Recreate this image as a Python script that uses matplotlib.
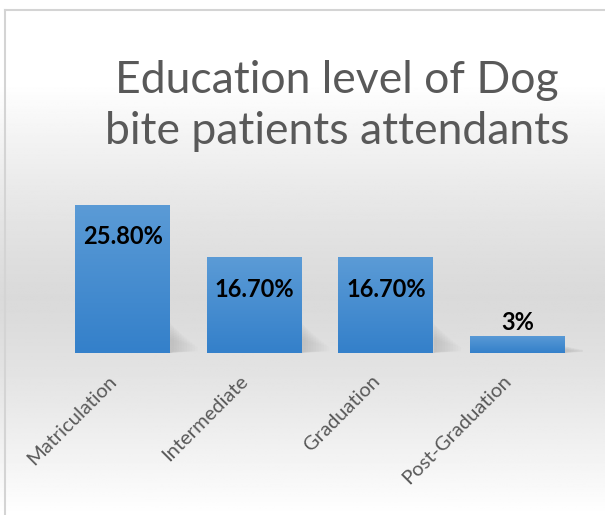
import numpy as np
import matplotlib.pyplot as plt
import matplotlib.transforms as mtransforms
from matplotlib.colors import LinearSegmentedColormap

# data
categories = ['Matriculation', 'Intermediate', 'Graduation', 'Post-Graduation']
values = [25.8, 16.7, 16.7, 3.0]
labels = ['25.80%', '16.70%', '16.70%', '3%']
title = 'Education level of Dog\nbite patients attendants'

W, H = 605, 515
fig = plt.figure(figsize=(W / 100, H / 100), dpi=100)

# background gradient (white -> grey -> white)
bg = fig.add_axes([0, 0, 1, 1])
yy = np.linspace(0, 1, 300)[:, None]  # 0 = top
grey = 0.855 + 0.145 * np.clip(np.abs(yy - 0.58) / 0.42, 0, 1) ** 1.3
img = np.repeat(grey, 2, axis=1)
bg.imshow(img, cmap='gray', vmin=0, vmax=1, aspect='auto', extent=(0, W, H, 0))
bg.set_xlim(0, W)
bg.set_ylim(H, 0)
bg.axis('off')
# chart frame (cropped on right and bottom)
bg.plot([5, W + 5], [10, 10], color='#d4d4d4', lw=1.5)
bg.plot([5, 5], [10, H + 5], color='#d4d4d4', lw=1.5)

# main axes
left_px, right_px, bottom_px, top_px = 56.75, 583.25, 353, 190
ax = fig.add_axes([left_px / W, (H - bottom_px) / H,
                   (right_px - left_px) / W, (bottom_px - top_px) / H])
ax.patch.set_alpha(0)
ppu = 5.74  # pixels per percent
ax.set_xlim(-0.5, 3.5)
ax.set_ylim(0, (bottom_px - top_px) / ppu)

x = np.arange(len(categories))
bw = 0.72
bar_cmap = LinearSegmentedColormap.from_list('b', ['#3480ca', '#5b9bd6'])
bars = ax.bar(x, values, width=bw, color='none', edgecolor='none', zorder=3)
grad = np.linspace(1, 0, 100)[:, None]
for b, v in zip(bars, values):
    bx = b.get_x()
    # soft shadow near the base, to the right
    sh = min(v * 0.35, 4.5)
    for k in range(10):
        ax.fill([bx + bw, bx + bw + 0.03 + 0.02 * k, bx + bw + 0.03 + 0.02 * k, bx + bw],
                [0, 0.3, sh * (1 - k / 12), sh * (1.2 - k / 14)], color='black',
                alpha=0.01, lw=0, zorder=2)
    im = ax.imshow(grad, cmap=bar_cmap, vmin=0, vmax=1, aspect='auto',
                   extent=(bx, bx + bw, 0, v), zorder=3)
    im.set_clip_path(b)

for xi, v, lab in zip(x, values, labels):
    if v > 6:
        ax.text(xi, v - 32 / ppu, lab, ha='center', va='center',
                fontsize=17, fontweight='bold', family='Lato', color='black', zorder=4)
    else:
        ax.annotate(lab, (xi, v), xytext=(0, 1), textcoords='offset points',
                    ha='center', va='bottom', fontsize=17, fontweight='bold',
                    family='Lato', color='black', zorder=4)

ax.set_xticks(x)
ax.set_xticklabels(categories, rotation=45, ha='right', va='center',
                   rotation_mode='anchor', fontsize=14.5, family='Lato',
                   color='#595959')
ax.tick_params(axis='x', length=0, pad=18)
shift = mtransforms.ScaledTranslation(-9 / 100, 0, fig.dpi_scale_trans)
for t in ax.get_xticklabels():
    t.set_transform(t.get_transform() + shift)
ax.set_yticks([])
for s in ax.spines.values():
    s.set_visible(False)

fig.text(337 / W, 1 - 106 / H, title, ha='center', va='center',
         fontsize=32, family='Lato', color='#595959', linespacing=1.28)

fig.savefig('out.png', dpi=100)
